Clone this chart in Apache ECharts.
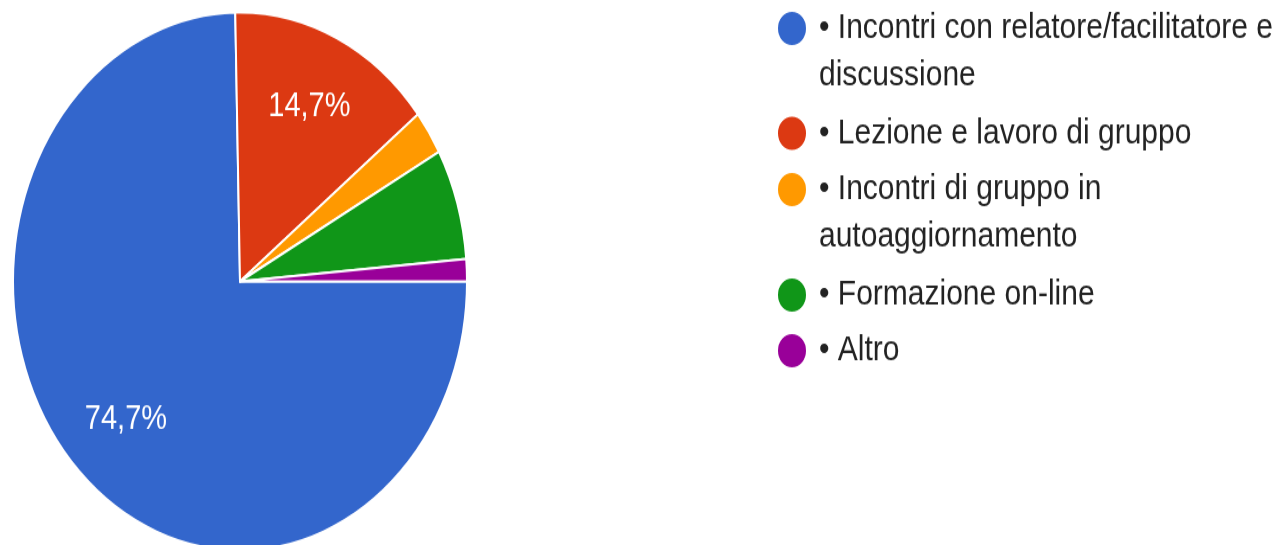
<!DOCTYPE html>
<html>
<head>
<meta charset="utf-8">
<script src="https://cdn.jsdelivr.net/npm/echarts@6/dist/echarts.min.js"></script>
<style>
html { overflow: hidden; }
html, body { margin: 0; padding: 0; background: #fff; height: 545px; }
#graph { width: 1282px; height: 460px; transform: scaleY(1.1848); transform-origin: 0 0; }
</style>
</head>
<body>
<div id="graph"></div>
<script>
var categories = [
    'Incontri con relatore/facilitatore e discussione',
    'Lezione e lavoro di gruppo',
    'Incontri di gruppo in autoaggiornamento',
    'Formazione on-line',
    'Altro'
];
var legendLabels = [
    '• Incontri con relatore/facilitatore e\ndiscussione',
    '• Lezione e lavoro di gruppo',
    '• Incontri di gruppo in\nautoaggiornamento',
    '• Formazione on-line',
    '• Altro'
];
// risposte per categoria
var counts = [56, 11, 2, 5, 1];
var colors = ['#3366cc', '#dc3912', '#ff9900', '#109618', '#990099'];

// centro verticale di ogni pallino della legenda (px, prima dello stretch)
var legendRowY = [24, 112.5, 160, 249, 296];

var total = counts.reduce(function(a, b) { return a + b; }, 0);

var dom = document.getElementById('graph');
var chart = echarts.init(dom);

var pieData = categories.map(function(name, i) {
    return { name: name, value: counts[i], itemStyle: { color: colors[i] } };
});

// una legenda per voce: il pallino resta allineato con la prima riga
var legends = categories.map(function(name, i) {
    var twoLines = legendLabels[i].indexOf('\n') >= 0;
    return {
        orient: 'vertical',
        left: 776,
        top: legendRowY[i] - (twoLines ? 60 : 20),
        padding: 0,
        itemWidth: 30,
        itemHeight: 30,
        icon: 'circle',
        data: [name],
        formatter: function() {
            // riga vuota in testa: la prima riga vera cade al centro del pallino
            return (twoLines ? '\n' : '') + legendLabels[i];
        },
        textStyle: {
            fontSize: 30,
            lineHeight: 40,
            color: '#222',
            padding: [0, 0, 0, 7],
            fontFamily: '"Liberation Sans", Arial, sans-serif'
        }
    };
});

chart.setOption({
    animation: false,
    legend: legends,
    series: [
        {
            name: 'Risposte',
            type: 'pie',
            radius: 227,
            center: [240, 237.5],
            startAngle: 0,
            clockwise: true,
            data: pieData,
            itemStyle: { borderColor: '#fff', borderWidth: 2 },
            label: { show: false },
            labelLine: { show: false },
            emphasis: { scale: false }
        },
        {
            name: 'Etichette',
            type: 'pie',
            radius: [93, 227],
            center: [240, 237.5],
            startAngle: 0,
            clockwise: true,
            silent: true,
            minShowLabelAngle: 30,
            data: categories.map(function(name, i) {
                return { name: name, value: counts[i] };
            }),
            itemStyle: { color: 'transparent', borderWidth: 0 },
            label: {
                show: true,
                position: 'inside',
                color: '#fff',
                fontSize: 29,
                fontFamily: '"Liberation Sans", Arial, sans-serif',
                formatter: function(p) {
                    return (p.value / total * 100).toFixed(1).replace('.', ',') + '%';
                }
            },
            labelLine: { show: false }
        }
    ]
});
</script>
</body>
</html>
